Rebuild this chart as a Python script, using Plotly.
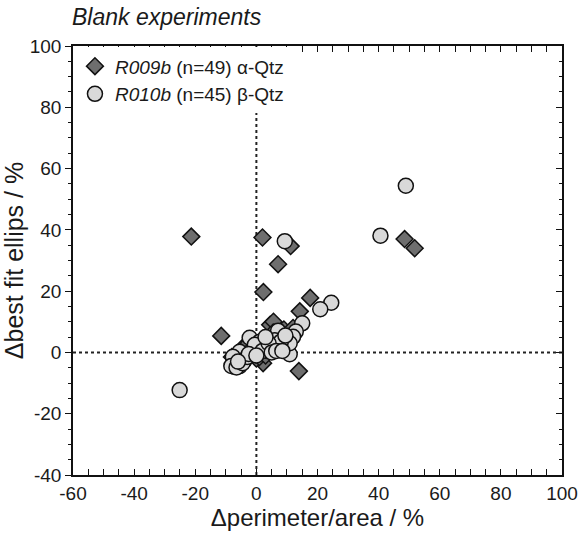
import plotly.graph_objects as go

# R009b (alpha-Qtz), n=49 : diamonds
r009b_x = [-21.3, 2.0, 11.2, 7.1, 2.3, 17.6, 14.2, 48.5, 51.8, -11.5, 13.9, 4.5, 5.6, 2.2,
           -8, -6, -5, -3, -2, -1, 0, 0.5, 1, 1.5, 2, 2.5, 3, 3.5, 4, 4.5, 5, 5.5, 6, 6.5,
           7, 7.5, 8, 8.5, 9, 10, 10.5, 11, 12, -4, -2.5, 0, 1, 3, 9]
r009b_y = [37.8, 37.5, 34.7, 28.8, 19.7, 17.8, 13.4, 37.0, 34.0, 5.4, -6.1, 9.0, 10.0, -3.5,
           -1.5, -2.5, -1, 0.5, -1, 1, 2, -0.5, 1.5, 3, 0.5, 2.5, 4, 1, 2, 5, 3, 6.5, 1.5, 4.5,
           3, 6, 2, 5, 7.5, 3.5, 6, 4, 8, 2, 3, -2, -1.5, -1, 1]

# R010b (beta-Qtz), n=45 : circles
r010b_x = [48.9, 40.6, 9.3, 24.5, 20.9, 15.0, 12.9, 7.1, -2.2, 10.9, -7.1, -5.5, -1.6, 4.4,
           -5.5, -25.1, 7.1, 1.6, 12.0, -7.7,
           -8.2, -6.5, 10.9, 0.5, 2.7, 1.1, -1.6, -3.8, -4.5, -3, 3.5, 5.5, 6, 8, 9.5, -0.5,
           2, 4, -2.5, 0, 5, 6.5, -6, 3, 8.5]
r010b_y = [54.4, 38.1, 36.3, 16.2, 14.1, 9.5, 6.8, 7.1, 4.8, -0.6, -4.7, -4.5, 0.5, 1.2,
           0.2, -12.3, 1.9, 3.0, 5.1, -1.4,
           -4.4, -4.9, 3.0, 1.7, 2.4, 3.5, -0.3, -2.5, -3.5, -1.5, 0.5, 2.5, 4, 3.5, 5.5, 2.5,
           0.5, 3, -0.5, -1, 0, 0.5, -3, 5, 0.5]

x_range = [-60, 100]
y_range = [-40, 100]
tick_vals_x = [-60, -40, -20, 0, 20, 40, 60, 80, 100]
tick_text_x = ["-60", "-40", "-20", "0", "20", "40", "60", "80", "100"]
tick_vals_y = [-40, -20, 0, 20, 40, 60, 80, 100]
tick_text_y = ["-40", "-20", "0", "20", "40", "60", "80", "100"]

font_family = "Liberation Sans, Arial, sans-serif"

fig = go.Figure()
fig.add_trace(go.Scatter(
    x=r009b_x, y=r009b_y, mode="markers",
    name="<i>R009b</i> (n=49) α-Qtz",
    marker=dict(symbol="diamond", size=13, color="#6e6e6e",
                line=dict(color="#111111", width=1.5)),
))
fig.add_trace(go.Scatter(
    x=r010b_x, y=r010b_y, mode="markers",
    name="<i>R010b</i> (n=45) β-Qtz",
    marker=dict(symbol="circle", size=15, color="#d9d9d9",
                line=dict(color="#111111", width=1.5)),
))
# helper trace to activate the right-hand axis (no visible marks)
fig.add_trace(go.Scatter(x=[None], y=[None], yaxis="y2", showlegend=False,
                         hoverinfo="skip", mode="markers"))

fig.add_shape(type="line", xref="x", yref="paper", x0=0, x1=0, y0=0, y1=1,
              line=dict(color="#222222", width=2, dash="dot"), layer="below")
fig.add_shape(type="line", xref="paper", yref="y", x0=0, x1=1, y0=0, y1=0,
              line=dict(color="#222222", width=2, dash="dot"), layer="below")

fig.update_layout(
    width=579, height=533,
    margin=dict(l=73, r=17, t=46, b=58),
    paper_bgcolor="white", plot_bgcolor="white",
    font=dict(family=font_family, size=19, color="#1a1a1a"),
    showlegend=True,
    legend=dict(x=0.004, y=0.997, xanchor="left", yanchor="top",
                bgcolor="white", font=dict(size=19),
                itemsizing="trace", itemwidth=30, tracegroupgap=0),
    title=dict(text="<i>Blank experiments</i>", x=72/579, xanchor="left",
               y=1 - 17/533, yanchor="middle", font=dict(size=23)),
    xaxis=dict(range=x_range, tickvals=tick_vals_x, ticktext=tick_text_x,
               showgrid=False, zeroline=False, automargin=False,
               showline=True, linecolor="#111111", linewidth=1.5,
               mirror="allticks", ticks="inside", ticklen=6, tickwidth=1.3,
               tickcolor="#111111",
               minor=dict(dtick=5, ticks="inside", ticklen=3, tickwidth=1.2,
                          tickcolor="#111111", showgrid=False),
               title=dict(text="Δperimeter/area / %", font=dict(size=24), standoff=2),
               tickfont=dict(size=19)),
    yaxis=dict(range=y_range, tickvals=tick_vals_y, ticktext=tick_text_y,
               showgrid=False, zeroline=False, automargin=False,
               showline=True, linecolor="#111111", linewidth=1.5,
               ticks="outside", ticklen=6, tickwidth=1.3, tickcolor="#111111",
               minor=dict(dtick=5, ticks="outside", ticklen=3, tickwidth=1.2,
                          tickcolor="#111111", showgrid=False),
               title=dict(text="Δbest fit ellips / %", font=dict(size=25), standoff=0),
               tickfont=dict(size=19)),
    yaxis2=dict(range=y_range, tickvals=tick_vals_y, overlaying="y", side="right",
                showgrid=False, zeroline=False, showline=True, linecolor="#111111",
                automargin=False,
                linewidth=1.5, ticks="inside", ticklen=6, tickwidth=1.3,
                tickcolor="#111111", showticklabels=False,
                minor=dict(dtick=5, ticks="inside", ticklen=3, tickwidth=1.2,
                           tickcolor="#111111", showgrid=False)),
)

fig.write_html("out.html")
